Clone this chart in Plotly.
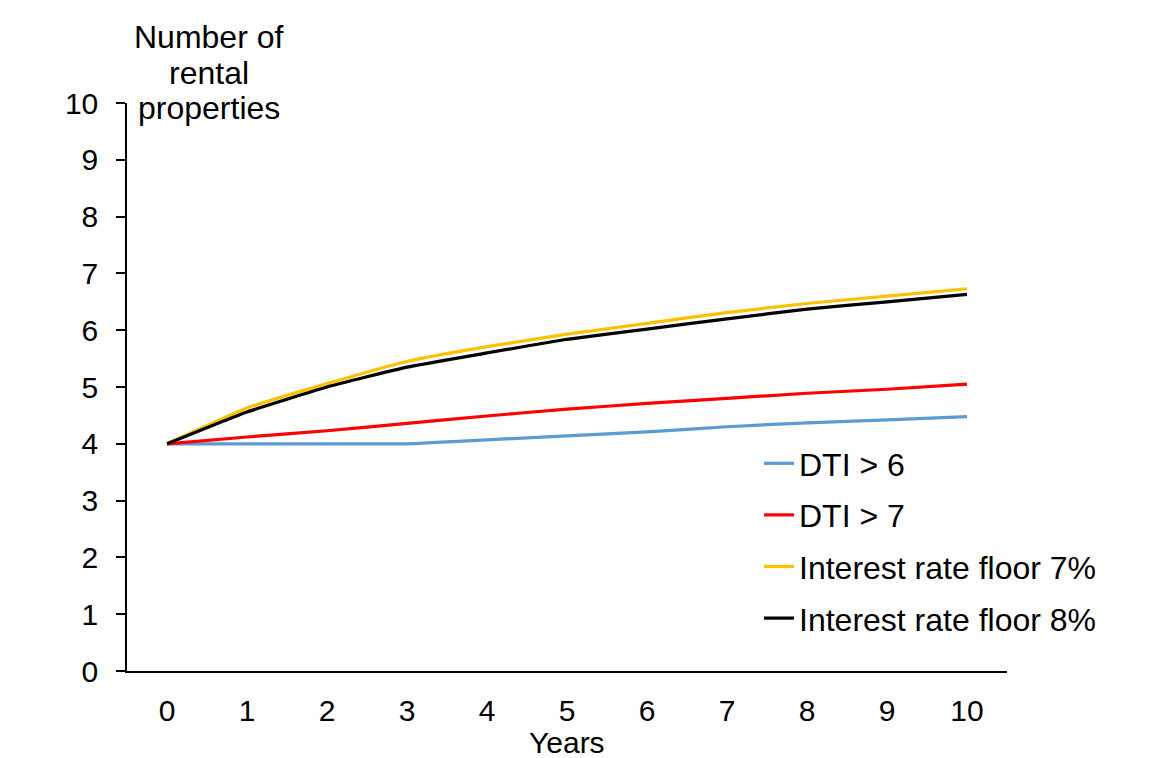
import plotly.graph_objects as go

years = list(range(0, 11))
dti6 = [4.0, 4.0, 4.0, 4.0, 4.07, 4.14, 4.21, 4.30, 4.37, 4.42, 4.48]
dti7 = [4.0, 4.12, 4.23, 4.36, 4.49, 4.61, 4.71, 4.80, 4.89, 4.96, 5.05]
floor7 = [4.0, 4.63, 5.06, 5.45, 5.71, 5.93, 6.12, 6.31, 6.47, 6.60, 6.73]
floor8 = [4.0, 4.56, 5.00, 5.35, 5.60, 5.84, 6.02, 6.20, 6.37, 6.50, 6.63]
y_title_lines = ["Number of", "rental", "properties"]

series = [
    ("DTI > 6", dti6, "#5B9BD5"),
    ("DTI > 7", dti7, "#FF0000"),
    ("Interest rate floor 7%", floor7, "#FFC000"),
    ("Interest rate floor 8%", floor8, "#000000"),
]

FONT = "Liberation Sans, Arial, sans-serif"
FS = 30
FS_BIG = 32

# reference plot area in page pixels (page has an 8px body offset)
PL, PR, PT, PB = 127, 1007, 103, 671
OFF = 8
W, H = 1158, 758
PW, PH = PR - PL, PB - PT


def px(x):
    return (x - PL) / PW


def py(y):
    return (PB - y) / PH


fig = go.Figure()
for i, (name, vals, col) in enumerate(series):
    fig.add_trace(go.Scatter(
        x=years, y=vals, name=name, mode="lines",
        line=dict(color=col, width=3.2, shape="spline", smoothing=0.4),
        legendgroup=f"g{i}",
    ))

fig.update_layout(
    width=W, height=H,
    paper_bgcolor="white", plot_bgcolor="white",
    margin=dict(l=PL - OFF, r=W - PR + OFF, t=PT - OFF, b=H - PB + OFF),
    font=dict(family=FONT, size=FS, color="black"),
    showlegend=True,
    legend=dict(
        x=px(759), y=py(436), xanchor="left", yanchor="top",
        font=dict(size=FS_BIG, family=FONT),
        tracegroupgap=7, itemwidth=30,
        bgcolor="rgba(0,0,0,0)",
    ),
)

fig.update_xaxes(
    range=[-0.5, 10.5], tickvals=years, ticktext=[str(y) for y in years],
    showgrid=False, zeroline=False, showline=True, linecolor="black", linewidth=1.5,
    ticks="outside", ticklen=12, tickcolor="rgba(0,0,0,0)",
    tickfont=dict(size=FS, family=FONT),
)
fig.update_yaxes(
    range=[0, 10], tickvals=list(range(0, 11)),
    showgrid=False, zeroline=False, showline=True, linecolor="black", linewidth=1.5,
    ticks="outside", ticklen=9, tickcolor="black", tickwidth=1.5,
    ticklabelstandoff=12,
    tickfont=dict(size=FS, family=FONT),
)

for line, yc in zip(y_title_lines, [37, 73, 108]):
    fig.add_annotation(
        x=px(209), y=py(yc), xref="paper", yref="paper", showarrow=False,
        xanchor="center", yanchor="middle",
        text=line, font=dict(size=FS_BIG, family=FONT),
    )
fig.add_annotation(
    x=px(567), y=py(742), xref="paper", yref="paper", showarrow=False,
    xanchor="center", yanchor="middle",
    text="Years", font=dict(size=FS, family=FONT),
)

# faint frame of the original picture
fig.add_shape(type="line", xref="paper", yref="paper",
              x0=px(5), x1=px(1154), y0=py(3.5), y1=py(3.5),
              line=dict(color="#CCCCCC", width=1.5))
fig.add_shape(type="line", xref="paper", yref="paper",
              x0=px(5.5), x1=px(5.5), y0=py(3.5), y1=py(758),
              line=dict(color="#DDDDDD", width=1.5))

fig.write_html("out.html")
